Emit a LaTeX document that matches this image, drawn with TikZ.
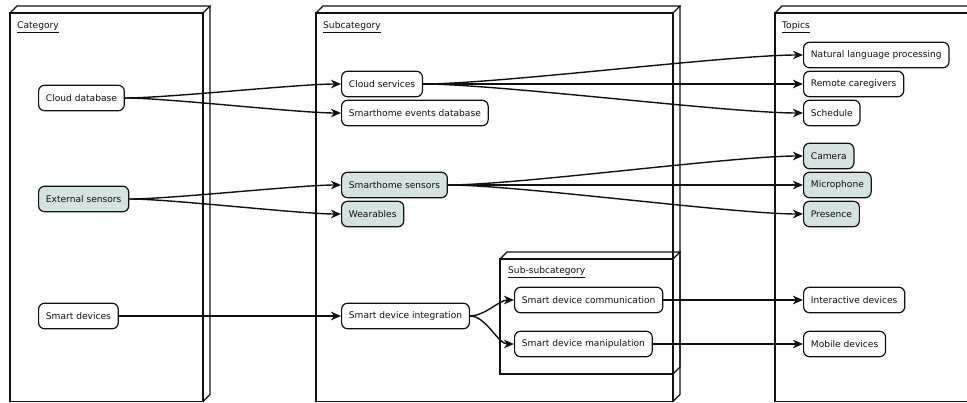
\documentclass[tikz,border=0pt]{standalone}
\usepackage{fontspec}
\setmainfont{DejaVu Sans}
\usetikzlibrary{arrows.meta}
\definecolor{sensorfill}{HTML}{D5E2E2}
\definecolor{ink}{HTML}{111111}

% 3D "deployment node" frame: front face (x1,y1)-(x2,y2), depth 7
\newcommand\umlframe[4]{%
  \draw[frame] (#1,#2) rectangle (#3,#4);
  \draw[frame] (#1,#2) -- (#1+7,#2-7) -- (#3+7,#2-7) -- (#3,#2);
  \draw[frame] (#3+7,#2-7) -- (#3+7,#4-7) -- (#3,#4);
}

\begin{document}
\begin{tikzpicture}[x=1pt,y=-1pt,
  frame/.style={line width=1.2pt, line join=miter, draw=ink},
  item/.style={draw=ink, line width=1.2pt, rounded corners=6pt, fill=white,
    minimum height=25.5pt, inner xsep=7.3pt, inner ysep=0pt, anchor=west,
    text=ink, font=\fontsize{9.1}{11}\selectfont},
  sensor/.style={item, fill=sensorfill},
  heading/.style={anchor=base west, inner sep=0pt, text=ink,
    font=\fontsize{9.1}{11}\selectfont},
  link/.style={line width=1.4pt, draw=ink,
    -{Stealth[length=10pt,width=8.5pt,inset=3pt]}},
  swing/.style={out=0, in=180, looseness=0.5},
]
\clip (0,0) rectangle (967,403);
\fill[white] (0,0) rectangle (967,403);

% frames
\umlframe{10}{13}{203}{401.5}
\umlframe{316}{13}{673}{401.5}
\umlframe{775}{13}{1100}{401.5}
\umlframe{500}{259}{673}{374}

% headings
\node[heading] (hcat) at (17,29) {\underline{Category}};
\node[heading] (hsub) at (323,29) {\underline{Subcategory}};
\node[heading] (htop) at (782,29) {\underline{Topics}};
\node[heading] (hsubsub) at (508,274) {\underline{Sub-subcategory}};

% category column
\node[item]   (clouddb)  at (38,98)  {Cloud database};
\node[sensor] (extsens)  at (38,199) {External sensors};
\node[item]   (smartdev) at (38,316) {Smart devices};

% subcategory column
\node[item]   (cloudsvc) at (341,84)  {Cloud services};
\node[item]   (eventsdb) at (341,113) {Smarthome events database};
\node[sensor] (homesens) at (341,185) {Smarthome sensors};
\node[sensor] (wear)     at (341,214) {Wearables};
\node[item]   (integ)    at (341,316) {Smart device integration};

% sub-subcategory
\node[item] (comm)  at (514,300) {Smart device communication};
\node[item] (manip) at (514,344) {Smart device manipulation};

% topics column
\node[item]   (nlp)      at (803,55)  {Natural language processing};
\node[item]   (remote)   at (803,84)  {Remote caregivers};
\node[item]   (sched)    at (803,113) {Schedule};
\node[sensor] (cam)      at (803,156) {Camera};
\node[sensor] (mic)      at (803,185) {Microphone};
\node[sensor] (pres)     at (803,214) {Presence};
\node[item]   (interact) at (803,300) {Interactive devices};
\node[item]   (mobile)   at (803,344) {Mobile devices};

% connectors
\draw[link] (clouddb.east) to[swing] (cloudsvc.west);
\draw[link] (clouddb.east) to[swing] (eventsdb.west);
\draw[link] (extsens.east) to[swing] (homesens.west);
\draw[link] (extsens.east) to[swing] (wear.west);
\draw[link] (smartdev.east) -- (integ.west);

\draw[link] (cloudsvc.east) to[swing] (nlp.west);
\draw[link] (cloudsvc.east) -- (remote.west);
\draw[link] (cloudsvc.east) to[swing] (sched.west);
\draw[link] (homesens.east) to[swing] (cam.west);
\draw[link] (homesens.east) -- (mic.west);
\draw[link] (homesens.east) to[swing] (pres.west);

\draw[link] (integ.east) to[out=0, in=180, looseness=0.8] (comm.west);
\draw[link] (integ.east) to[out=0, in=180, looseness=0.8] (manip.west);
\draw[link] (comm.east) -- (interact.west);
\draw[link] (manip.east) -- (mobile.west);
\end{tikzpicture}
\end{document}
